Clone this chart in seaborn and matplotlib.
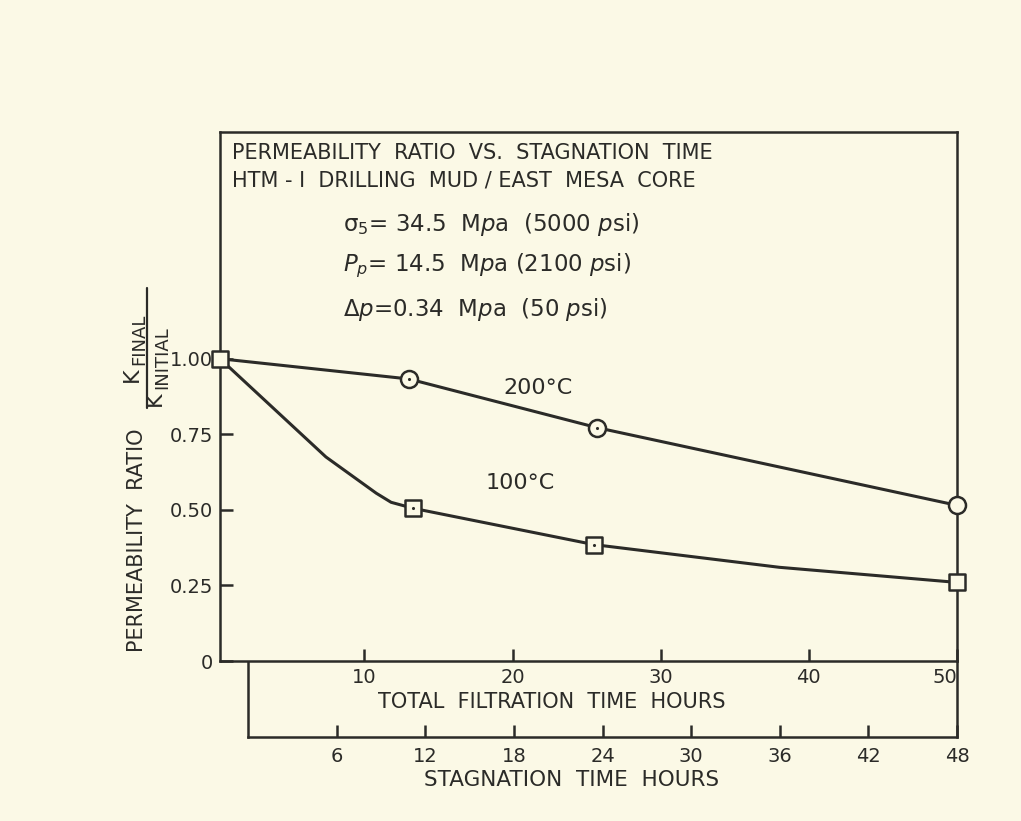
import matplotlib
matplotlib.use('Agg')
import matplotlib.pyplot as plt
from matplotlib.lines import Line2D
import pandas as pd
import seaborn as sns

# data (x = total filtration time, hours)
x_200 = [0.25, 13.0, 25.7, 50.0]
y_200 = [1.00, 0.933, 0.772, 0.515]

x_100_curve = [0.25, 7.4, 10.8, 11.8, 13.3, 25.5, 38.0, 50.0]
y_100_curve = [1.00, 0.675, 0.555, 0.525, 0.505, 0.385, 0.31, 0.26]
x_100_pts = [0.25, 13.3, 25.5, 50.0]
y_100_pts = [1.00, 0.505, 0.385, 0.26]

filtration_ticks = [10, 20, 30, 40, 50]
stagnation_ticks = [6, 12, 18, 24, 30, 36, 42, 48]
ratio_ticks = [0, 0.25, 0.50, 0.75, 1.00]
ratio_labels = ['0', '0.25', '0.50', '0.75', '1.00']

BG = '#fbf9e6'
INK = '#2b2b28'
W, H = 1021, 821

sns.set_style('ticks')
plt.rcParams['font.family'] = ['DejaVu Sans']
plt.rcParams['mathtext.default'] = 'regular'
plt.rcParams['axes.edgecolor'] = INK
plt.rcParams['text.color'] = INK
plt.rcParams['xtick.color'] = INK
plt.rcParams['ytick.color'] = INK

fig = plt.figure(figsize=(W / 100, H / 100), dpi=100, facecolor=BG)

def px(x0, y0, x1, y1):
    # pixel box -> figure fraction
    return [x0 / W, 1 - y1 / H, (x1 - x0) / W, (y1 - y0) / H]

ax2 = fig.add_axes(px(248, 661, 957, 737))
ax = fig.add_axes(px(220, 132, 957, 661))
ax.set_zorder(3)
ax2.set_zorder(1)
for a in (ax, ax2):
    a.set_facecolor(BG)
    for s in a.spines.values():
        s.set_linewidth(1.8)
        s.set_color(INK)

df200 = pd.DataFrame({'t': x_200, 'k': y_200})
df100c = pd.DataFrame({'t': x_100_curve, 'k': y_100_curve})
df100p = pd.DataFrame({'t': x_100_pts, 'k': y_100_pts})

sns.lineplot(data=df200, x='t', y='k', ax=ax, color=INK, lw=2.2, sort=False)
sns.lineplot(data=df100c, x='t', y='k', ax=ax, color=INK, lw=2.2, sort=False)

sns.scatterplot(data=df200.iloc[1:], x='t', y='k', ax=ax, marker='o', s=150,
                facecolor=BG, edgecolor=INK, linewidth=1.8, zorder=5, clip_on=False)
sns.scatterplot(data=df100p, x='t', y='k', ax=ax, marker='s', s=140,
                facecolor=BG, edgecolor=INK, linewidth=1.8, zorder=5, clip_on=False)
# centre dots of the plotted points
sns.scatterplot(data=df200.iloc[1:3], x='t', y='k', ax=ax, marker='o', s=5,
                color=INK, linewidth=0, zorder=6)
sns.scatterplot(data=df100p.iloc[1:3], x='t', y='k', ax=ax, marker='o', s=5,
                color=INK, linewidth=0, zorder=6)

ax.set_xlim(0.25, 50)
ax.set_ylim(0, 1.75)
ax.set_xticks(filtration_ticks)
ax.set_xticklabels([str(t) for t in filtration_ticks])
ax.set_yticks(ratio_ticks)
ax.set_yticklabels(ratio_labels)
ax.tick_params(direction='in', length=9, width=1.8, labelsize=14, pad=5)
ax.set_xlabel('')
ax.set_ylabel('')
# "50" sits just inside the right edge in the original
ax.get_xticklabels()[-1].set_horizontalalignment('right')

ax2.set_xlim(0, 48)
ax2.set_ylim(0, 1)
ax2.set_yticks([])
ax2.set_xticks(stagnation_ticks)
ax2.set_xticklabels([str(t) for t in stagnation_ticks])
ax2.tick_params(axis='x', direction='in', length=9, width=1.8, labelsize=14, pad=7)
ax2.spines['top'].set_visible(False)

def ftext(x, y, s, **kw):
    fig.text(x / W, 1 - y / H, s, **kw)

ftext(232, 153, 'PERMEABILITY  RATIO  VS.  STAGNATION  TIME', fontsize=15, va='center')
ftext(232, 181, 'HTM - I  DRILLING  MUD / EAST  MESA  CORE', fontsize=15, va='center')
ftext(343, 224, r'$\sigma_5$= 34.5  M$\it{p}$a  (5000 $\it{p}$si)', fontsize=16.5, va='center')
ftext(343, 266, r'$\it{P_p}$= 14.5  M$\it{p}$a (2100 $\it{p}$si)', fontsize=16.5, va='center')
ftext(343, 309, r'$\Delta\it{p}$=0.34  M$\it{p}$a  (50 $\it{p}$si)', fontsize=16.5, va='center')

ftext(503, 388, '200°C', fontsize=16, ha='left', va='center')
ftext(486, 483, '100°C', fontsize=16, ha='left', va='center')

ftext(552, 702, 'TOTAL  FILTRATION  TIME  HOURS', fontsize=15, ha='center', va='center')
ftext(572, 780, 'STAGNATION  TIME  HOURS', fontsize=15.5, ha='center', va='center')

# y-axis label: words plus a K_final / K_initial fraction (rotated)
ftext(137, 540, 'PERMEABILITY  RATIO', fontsize=15, rotation=90, ha='center', va='center')
ftext(132, 382, 'K', fontsize=16, rotation=90, ha='center', va='bottom')
ftext(139, 365, 'FINAL', fontsize=13, rotation=90, ha='center', va='bottom')
ftext(155, 406, 'K', fontsize=16, rotation=90, ha='center', va='bottom')
ftext(162, 389, 'INITIAL', fontsize=13, rotation=90, ha='center', va='bottom')
fig.add_artist(Line2D([147 / W, 147 / W], [1 - 288 / H, 1 - 408 / H],
                      transform=fig.transFigure, color=INK, lw=1.6))

fig.savefig('out.png', dpi=100, facecolor=BG)
